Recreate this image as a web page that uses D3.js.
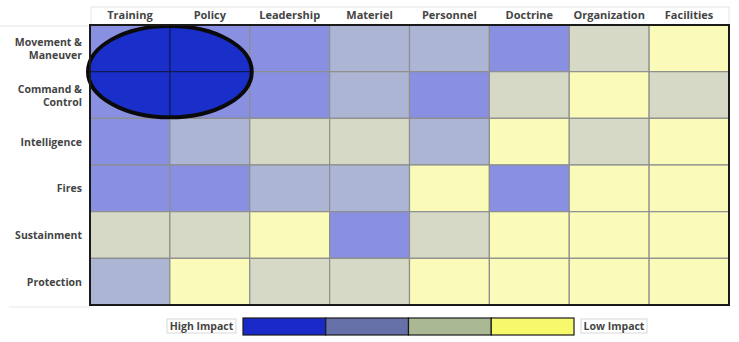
<!DOCTYPE html>
<html>
<head>
<meta charset="utf-8">
<script src="https://cdn.jsdelivr.net/npm/d3@7"></script>
<style>
  html, body { margin: 0; padding: 0; background: #fff; }
  text { font-family: "Open Sans", "DejaVu Sans", sans-serif; font-weight: 700; fill: #444; }
</style>
</head>
<body>
<div id="chart"></div>
<script>
const columns = ['Training', 'Policy', 'Leadership', 'Materiel', 'Personnel', 'Doctrine', 'Organization', 'Facilities'];
const rows = [['Movement &', 'Maneuver'], ['Command &', 'Control'], ['Intelligence'], ['Fires'], ['Sustainment'], ['Protection']];
const rowKeys = rows.map(r => r.join(' '));

// impact level per cell: 1 = highest, 4 = lowest
const levels = [
  [1, 1, 1, 2, 2, 1, 3, 4],
  [1, 1, 1, 2, 1, 3, 4, 3],
  [1, 2, 3, 3, 2, 4, 3, 4],
  [1, 1, 2, 2, 4, 1, 4, 4],
  [3, 3, 4, 1, 3, 4, 4, 4],
  [2, 4, 3, 3, 4, 4, 4, 4]
];
// highlighted block (ellipse) covers these columns / rows
const highlightCols = ['Training', 'Policy'];
const highlightRows = ['Movement & Maneuver', 'Command & Control'];

const legendLevels = [1, 2, 3, 4];
const legendLabels = ['High Impact', 'Low Impact'];

const width = 739, height = 342;
const svg = d3.select('#chart').append('svg')
  .attr('width', width)
  .attr('height', height);

const x = d3.scaleBand().domain(columns).range([90, 729]);
const y = d3.scaleBand().domain(rowKeys).range([25, 305]);

const cellColor = d3.scaleOrdinal()
  .domain([1, 2, 3, 4])
  .range(['#8990e2', '#adb5d4', '#d5d9c6', '#fafbb8']);
const legendColor = d3.scaleOrdinal()
  .domain([1, 2, 3, 4])
  .range(['#1a2ac8', '#6571a8', '#abb894', '#f8f86c']);

// header box + row label frame lines
svg.append('rect')
  .attr('x', 91).attr('y', 7)
  .attr('width', 638).attr('height', 18)
  .attr('fill', 'none').attr('stroke', '#e4e4e4');
svg.append('line')
  .attr('x1', 0).attr('x2', 90).attr('y1', 26).attr('y2', 26)
  .attr('stroke', '#e4e4e4');
svg.append('line')
  .attr('x1', 9).attr('x2', 90).attr('y1', 307).attr('y2', 307)
  .attr('stroke', '#e8e8e8');

svg.selectAll('.col-label')
  .data(columns)
  .join('text')
  .attr('class', 'col-label')
  .attr('x', d => x(d) + x.bandwidth() / 2)
  .attr('y', 19)
  .attr('text-anchor', 'middle')
  .attr('font-size', 11)
  .text(d => d);

const rowLabel = svg.selectAll('.row-label')
  .data(rows)
  .join('text')
  .attr('class', 'row-label')
  .attr('text-anchor', 'end')
  .attr('font-size', 10.5)
  .attr('transform', (d, i) => `translate(82,${y(rowKeys[i]) + y.bandwidth() / 2})`);
rowLabel.selectAll('tspan')
  .data(d => d.map((t, j) => ({ t, j, n: d.length })))
  .join('tspan')
  .attr('x', 0)
  .attr('y', d => (d.j - (d.n - 1) / 2) * 13 + 4)
  .text(d => d.t);

// cells
const cells = [];
levels.forEach((row, i) => row.forEach((v, j) => cells.push({ r: rowKeys[i], c: columns[j], v })));

svg.selectAll('.cell')
  .data(cells)
  .join('rect')
  .attr('class', 'cell')
  .attr('x', d => x(d.c))
  .attr('y', d => y(d.r))
  .attr('width', x.bandwidth())
  .attr('height', y.bandwidth())
  .attr('fill', d => cellColor(d.v))
  .attr('stroke', '#8e8e8e')
  .attr('stroke-width', 1.2);

// highlight ellipse over the top-left block
const hx0 = x(highlightCols[0]), hx1 = x(highlightCols[1]) + x.bandwidth();
const hy0 = y(highlightRows[0]), hy1 = y(highlightRows[1]) + y.bandwidth();
const ecx = (hx0 + hx1) / 2, ecy = (hy0 + hy1) / 2;
const erx = (hx1 - hx0) / 2 + 2, ery = (hy1 - hy0) / 2 - 1;

svg.append('clipPath').attr('id', 'eclip')
  .append('ellipse')
  .attr('cx', ecx).attr('cy', ecy).attr('rx', erx).attr('ry', ery);
svg.append('ellipse')
  .attr('cx', ecx).attr('cy', ecy).attr('rx', erx).attr('ry', ery)
  .attr('fill', '#1a2fc9');
const inner = svg.append('g').attr('clip-path', 'url(#eclip)');
inner.append('line')
  .attr('x1', ecx).attr('x2', ecx).attr('y1', hy0).attr('y2', hy1)
  .attr('stroke', '#101a55').attr('stroke-width', 1.3);
inner.append('line')
  .attr('x1', hx0 - 5).attr('x2', hx1 + 5).attr('y1', ecy).attr('y2', ecy)
  .attr('stroke', '#101a55').attr('stroke-width', 1.3);
svg.append('ellipse')
  .attr('cx', ecx).attr('cy', ecy).attr('rx', erx).attr('ry', ery)
  .attr('fill', 'none').attr('stroke', '#0a0a0a').attr('stroke-width', 4);

// grid frame
svg.append('rect')
  .attr('x', 90).attr('y', 25)
  .attr('width', 639).attr('height', 280)
  .attr('fill', 'none').attr('stroke', '#1a1a1a').attr('stroke-width', 2);

// legend
const lx = d3.scaleBand().domain(legendLevels).range([243, 574]);
svg.selectAll('.legend-cell')
  .data(legendLevels)
  .join('rect')
  .attr('class', 'legend-cell')
  .attr('x', d => lx(d))
  .attr('y', 318)
  .attr('width', lx.bandwidth())
  .attr('height', 17)
  .attr('fill', d => legendColor(d))
  .attr('stroke', '#1a1a1a')
  .attr('stroke-width', 1.2);

const legendBoxes = [
  { label: legendLabels[0], x0: 167, x1: 236 },
  { label: legendLabels[1], x0: 581, x1: 647 }
];
const lb = svg.selectAll('.legend-label')
  .data(legendBoxes)
  .join('g')
  .attr('class', 'legend-label');
lb.append('rect')
  .attr('x', d => d.x0).attr('y', 319)
  .attr('width', d => d.x1 - d.x0).attr('height', 14)
  .attr('fill', '#fff').attr('stroke', '#d8d8d8');
lb.append('text')
  .attr('x', d => (d.x0 + d.x1) / 2)
  .attr('y', 330)
  .attr('text-anchor', 'middle')
  .attr('font-size', 10.5)
  .text(d => d.label);
</script>
</body>
</html>
